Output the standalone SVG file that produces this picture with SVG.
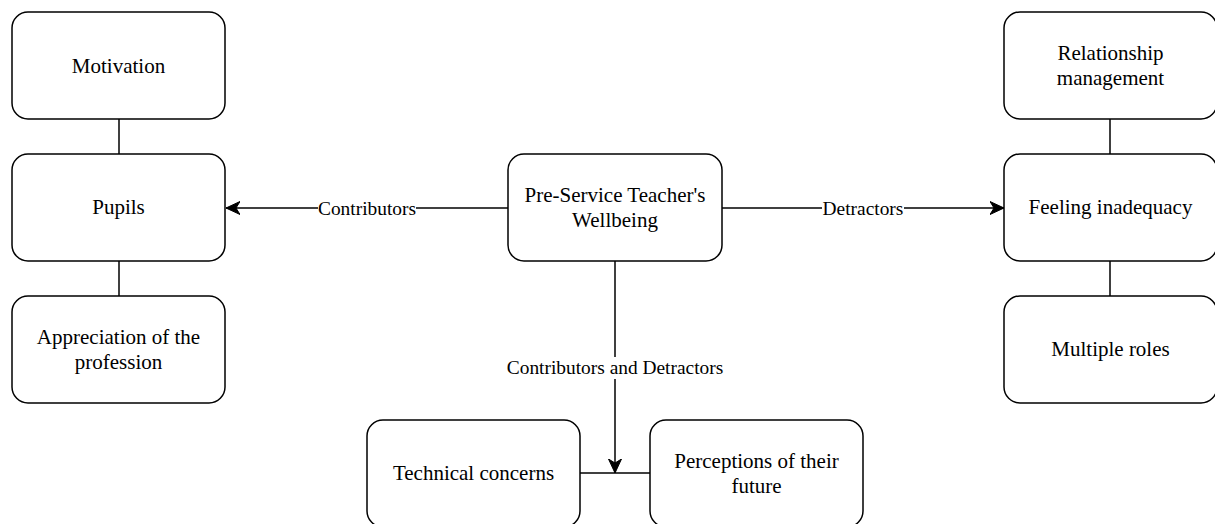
<svg xmlns="http://www.w3.org/2000/svg" width="1215" height="524" viewBox="0 0 1215 524">
  <style>
    .box { fill: #ffffff; stroke: #000000; stroke-width: 1.5; }
    .node-text { font-family: "Liberation Serif", "Times New Roman", serif; font-size: 21px; fill: #000000; text-anchor: middle; }
    .edge { fill: none; stroke: #000000; stroke-width: 1.5; }
    .edge-label { font-family: "Liberation Serif", "Times New Roman", serif; font-size: 19.4px; fill: #000000; text-anchor: middle; }
    .label-bg { fill: #ffffff; }
  </style>
  <defs>
    <marker id="arrow" markerUnits="userSpaceOnUse" markerWidth="16" markerHeight="16" viewBox="0 0 16 16" refX="14" refY="8" orient="auto">
      <path d="M14,8 L0,1.5 L4,8 L0,14.5 Z" fill="#000000" stroke="#000000" stroke-width="1"/>
    </marker>
  </defs>

  <rect width="1215" height="524" fill="#ffffff"/>

  <!-- connectors -->
  <g id="connectors">
    <line class="edge" x1="119" y1="119" x2="119" y2="154"/>
    <line class="edge" x1="119" y1="261" x2="119" y2="296"/>
    <line class="edge" x1="1110" y1="119" x2="1110" y2="154"/>
    <line class="edge" x1="1110" y1="261" x2="1110" y2="296"/>
    <line class="edge" x1="580" y1="473" x2="650" y2="473"/>

    <line class="edge" x1="508" y1="208" x2="226" y2="208" marker-end="url(#arrow)"/>
    <rect class="label-bg" x="318" y="197" width="98" height="22"/>
    <text class="edge-label" x="367" y="214.5">Contributors</text>

    <line class="edge" x1="722" y1="208" x2="1004" y2="208" marker-end="url(#arrow)"/>
    <rect class="label-bg" x="822" y="197" width="82" height="22"/>
    <text class="edge-label" x="863" y="214.5">Detractors</text>

    <line class="edge" x1="615" y1="261" x2="615" y2="473" marker-end="url(#arrow)"/>
    <rect class="label-bg" x="506" y="357" width="218" height="22"/>
    <text class="edge-label" x="615" y="374">Contributors and Detractors</text>
  </g>

  <!-- left column -->
  <g id="motivation">
    <rect class="box" x="12" y="12" width="213" height="107" rx="16" ry="16"/>
    <text class="node-text" x="118.5" y="73">Motivation</text>
  </g>
  <g id="pupils">
    <rect class="box" x="12" y="154" width="213" height="107" rx="16" ry="16"/>
    <text class="node-text" x="118.5" y="214">Pupils</text>
  </g>
  <g id="appreciation">
    <rect class="box" x="12" y="296" width="213" height="107" rx="16" ry="16"/>
    <text class="node-text" x="118.5" y="344">Appreciation of the</text>
    <text class="node-text" x="118.5" y="369">profession</text>
  </g>

  <!-- centre -->
  <g id="wellbeing">
    <rect class="box" x="508" y="154" width="214" height="107" rx="16" ry="16"/>
    <text class="node-text" x="615" y="202">Pre-Service Teacher's</text>
    <text class="node-text" x="615" y="227">Wellbeing</text>
  </g>

  <!-- right column -->
  <g id="relationship">
    <rect class="box" x="1004" y="12" width="213" height="107" rx="16" ry="16"/>
    <text class="node-text" x="1110.5" y="60">Relationship</text>
    <text class="node-text" x="1110.5" y="85">management</text>
  </g>
  <g id="inadequacy">
    <rect class="box" x="1004" y="154" width="213" height="107" rx="16" ry="16"/>
    <text class="node-text" x="1110.5" y="214">Feeling inadequacy</text>
  </g>
  <g id="roles">
    <rect class="box" x="1004" y="296" width="213" height="107" rx="16" ry="16"/>
    <text class="node-text" x="1110.5" y="356">Multiple roles</text>
  </g>

  <!-- bottom row -->
  <g id="technical">
    <rect class="box" x="367" y="420" width="213" height="107" rx="16" ry="16"/>
    <text class="node-text" x="473.5" y="480">Technical concerns</text>
  </g>
  <g id="future">
    <rect class="box" x="650" y="420" width="213" height="107" rx="16" ry="16"/>
    <text class="node-text" x="756.5" y="468">Perceptions of their</text>
    <text class="node-text" x="756.5" y="493">future</text>
  </g>
</svg>
